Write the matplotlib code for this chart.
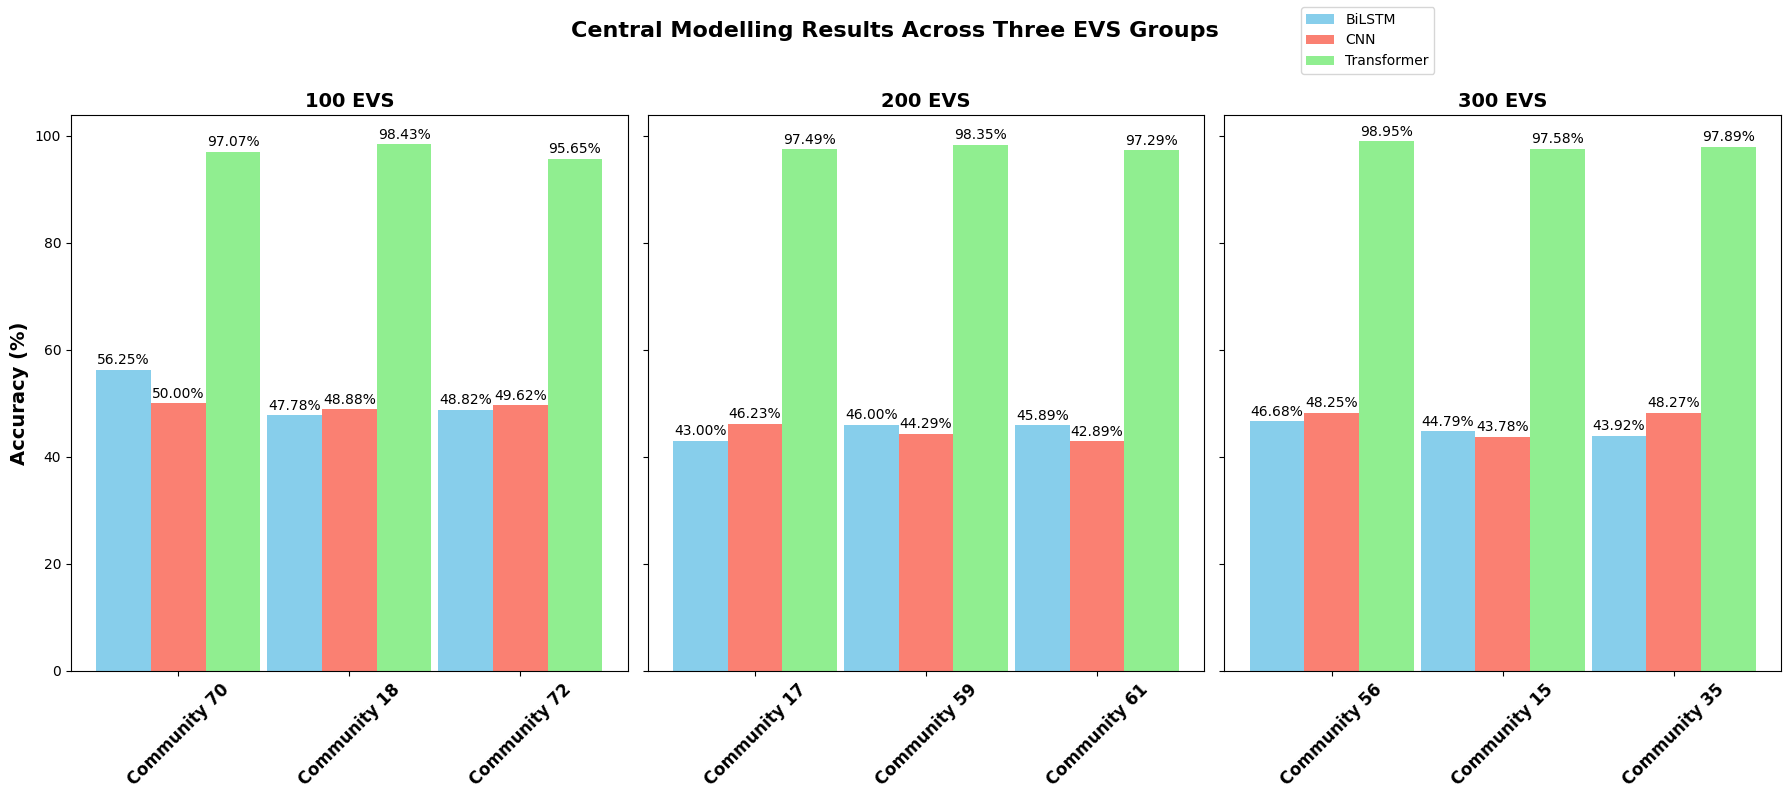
import matplotlib.pyplot as plt
import numpy as np

# data
groups = ['100 EVS', '200 EVS', '300 EVS']
communities = [
    ['Community 70', 'Community 18', 'Community 72'],
    ['Community 17', 'Community 59', 'Community 61'],
    ['Community 56', 'Community 15', 'Community 35'],
]
models = ['BiLSTM', 'CNN', 'Transformer']
bilstm = [[56.25, 47.78, 48.82], [43.00, 46.00, 45.89], [46.68, 44.79, 43.92]]
cnn = [[50.00, 48.88, 49.62], [46.23, 44.29, 42.89], [48.25, 43.78, 48.27]]
transformer = [[97.07, 98.43, 95.65], [97.49, 98.35, 97.29], [98.95, 97.58, 97.89]]
colors = ['skyblue', 'salmon', 'lightgreen']

fig, axes = plt.subplots(1, 3, figsize=(17.9, 7.98), dpi=100, sharey=True)
fig.subplots_adjust(left=71 / 1790, right=1781 / 1790, top=1 - 115 / 798,
                    bottom=1 - 671 / 798, wspace=0.036)

w = 0.32
ymax = max(max(r) for r in transformer) * 1.05
for g, ax in enumerate(axes):
    x = np.arange(len(communities[g]))
    series = [bilstm[g], cnn[g], transformer[g]]
    for m, vals in enumerate(series):
        bars = ax.bar(x + (m - 1) * w, vals, w, color=colors[m],
                      label=models[m] if g == 0 else None)
        for b, v in zip(bars, vals):
            ax.text(b.get_x() + b.get_width() / 2, v + 0.5, f'{v:.2f}%',
                    ha='center', va='bottom', fontsize=10)
    ax.set_title(groups[g], fontsize=14, fontweight='bold')
    ax.set_xticks(x)
    ax.set_xticklabels(communities[g], rotation=45, fontsize=12, fontweight='bold')
    ax.set_ylim(0, ymax)

axes[0].set_ylabel('Accuracy (%)', fontsize=14, fontweight='bold')
fig.suptitle('Central Modelling Results Across Three EVS Groups', fontsize=16,
             fontweight='bold', x=0.5, y=0.974)
fig.legend(loc='upper left', bbox_to_anchor=(1294 / 1790, 1.0))

plt.savefig('out.png', dpi=100)
